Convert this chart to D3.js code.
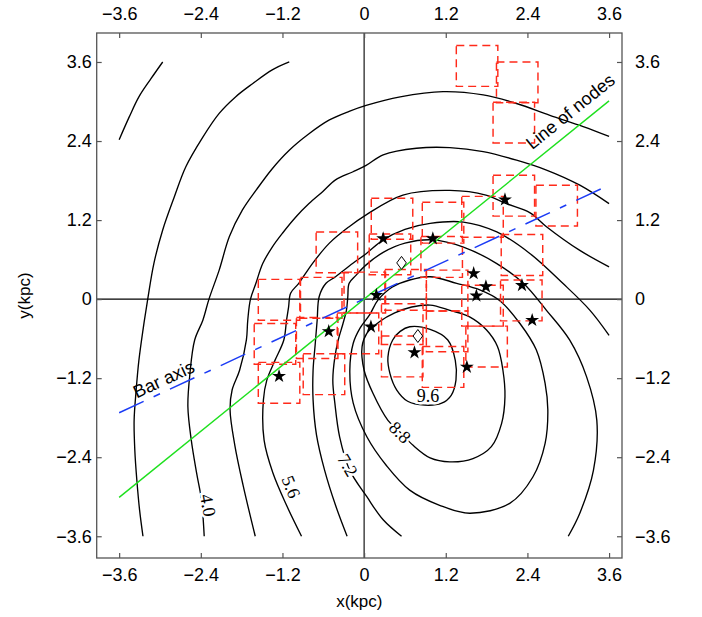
<!DOCTYPE html>
<html><head><meta charset="utf-8">
<script src="https://cdn.jsdelivr.net/npm/d3@7"></script>
<style>body{margin:0;background:#fff;}</style>
</head><body>
<svg id="chart" width="702" height="617"></svg>
<script>
// Axis ticks (kpc) and their printed labels
const tickValues = [-3.6, -2.4, -1.2, 0, 1.2, 2.4, 3.6];
const tickLabels = ["−3.6", "−2.4", "−1.2", "0", "1.2", "2.4", "3.6"];

// Iso-contours, traced as [x, y] in kpc
const contour24 = [[-3.60,2.42],[-3.45,2.77],[-3.31,3.07],[-3.13,3.35],[-2.96,3.60]];
const contour32 = [[-1.10,3.60],[-1.35,3.48],[-1.64,3.27],[-1.89,3.07],[-2.13,2.82],[-2.37,2.46],[-2.62,2.01],[-2.79,1.55],[-2.96,1.05],[-3.09,0.54],[-3.18,0.00],[-3.25,-0.47],[-3.31,-0.93],[-3.35,-1.38],[-3.38,-1.84],[-3.37,-2.29],[-3.34,-2.75],[-3.30,-3.20],[-3.25,-3.60]];
const contour40 = [[-2.35,-3.60],[-2.39,-3.05],[-2.46,-2.65],[-2.54,-2.14],[-2.59,-1.63],[-2.56,-1.13],[-2.49,-0.62],[-2.37,-0.32],[-2.28,0.00],[-2.13,0.44],[-1.98,0.95],[-1.79,1.35],[-1.59,1.65],[-1.35,1.98],[-1.10,2.26],[-0.81,2.51],[-0.51,2.72],[-0.22,2.85],[0.03,2.94],[0.53,3.07],[1.16,3.15],[1.75,3.10],[2.24,2.97],[2.73,2.79],[3.22,2.62],[3.60,2.47]];
const contour48 = [[-1.60,-3.60],[-1.78,-2.82],[-1.90,-2.22],[-1.97,-1.68],[-1.94,-1.38],[-1.83,-1.08],[-1.73,-0.62],[-1.71,-0.32],[-1.67,0.00],[-1.59,0.24],[-1.49,0.54],[-1.35,0.79],[-1.20,1.00],[-1.00,1.25],[-0.81,1.45],[-0.61,1.63],[-0.42,1.81],[-0.17,1.93],[0.03,2.03],[0.28,2.19],[0.77,2.29],[1.26,2.30],[1.75,2.24],[2.24,2.11],[2.68,1.96],[3.17,1.73],[3.60,1.45]];
const contour56 = [[-0.92,-3.60],[-1.14,-3.13],[-1.34,-2.64],[-1.47,-2.14],[-1.48,-1.53],[-1.43,-1.23],[-1.31,-0.93],[-1.18,-0.62],[-1.14,-0.32],[-1.11,-0.12],[-1.08,0.09],[-0.96,0.24],[-0.76,0.54],[-0.51,0.85],[-0.22,1.10],[0.03,1.28],[0.57,1.58],[1.26,1.65],[1.79,1.58],[2.09,1.45],[2.44,1.31],[2.68,1.10],[3.17,0.74],[3.60,0.49]];
const contour64 = [[-0.25,-3.60],[-0.42,-3.13],[-0.58,-2.60],[-0.70,-2.06],[-0.75,-1.53],[-0.75,-1.08],[-0.72,-0.70],[-0.69,-0.32],[-0.66,0.04],[-0.56,0.24],[-0.42,0.34],[-0.17,0.54],[0.03,0.69],[0.28,0.90],[0.60,1.06],[0.97,1.15],[1.46,1.17],[1.95,1.02],[2.44,0.69],[2.92,0.24],[3.32,-0.17],[3.60,-0.55]];
const contour72 = [[0.55,-3.60],[0.28,-3.35],[0.04,-3.00],[-0.21,-2.60],[-0.36,-2.09],[-0.43,-1.58],[-0.46,-1.23],[-0.43,-0.88],[-0.38,-0.62],[-0.31,-0.37],[-0.26,-0.17],[-0.24,0.03],[-0.22,0.24],[-0.12,0.36],[0.03,0.52],[0.28,0.71],[0.60,0.85],[1.01,0.90],[1.46,0.79],[1.95,0.54],[2.34,0.24],[2.68,-0.17],[3.02,-0.62],[3.27,-1.18],[3.42,-1.84],[3.37,-2.60],[3.17,-3.25],[3.00,-3.60]];
const contour80 = [[0.97,0.34],[1.36,0.24],[1.70,0.14],[1.99,-0.02],[2.29,-0.37],[2.53,-0.77],[2.66,-1.28],[2.70,-1.68],[2.66,-2.19],[2.48,-2.70],[2.14,-3.10],[1.55,-3.25],[1.11,-3.13],[0.67,-2.90],[0.33,-2.53],[0.04,-2.09],[-0.16,-1.58],[-0.21,-1.08],[-0.16,-0.67],[-0.06,-0.44],[0.08,-0.24],[0.20,-0.02],[0.41,0.18],[0.67,0.29]];
const contour88 = [[0.97,-0.09],[1.26,-0.17],[1.55,-0.27],[1.80,-0.47],[1.96,-0.72],[2.04,-1.08],[2.07,-1.48],[2.02,-1.89],[1.87,-2.24],[1.60,-2.42],[1.26,-2.47],[0.97,-2.41],[0.72,-2.22],[0.53,-2.02],[0.35,-1.84],[0.13,-1.43],[0.00,-1.08],[-0.03,-0.72],[0.04,-0.52],[0.23,-0.34],[0.45,-0.21],[0.70,-0.12]];
const contour96 = [[0.67,-0.42],[0.97,-0.46],[1.23,-0.62],[1.34,-0.93],[1.35,-1.23],[1.28,-1.46],[1.14,-1.58],[0.89,-1.61],[0.64,-1.55],[0.48,-1.38],[0.38,-1.13],[0.35,-0.88],[0.42,-0.62],[0.53,-0.49]];

const contourSet = [
  {level: 2.4, closed: false, points: contour24},
  {level: 3.2, closed: false, points: contour32},
  {level: 4.0, closed: false, points: contour40},
  {level: 4.8, closed: false, points: contour48},
  {level: 5.6, closed: false, points: contour56},
  {level: 6.4, closed: false, points: contour64},
  {level: 7.2, closed: false, points: contour72},
  {level: 8.0, closed: true,  points: contour80},
  {level: 8.8, closed: true,  points: contour88},
  {level: 9.6, closed: true,  points: contour96}
];

// In-line contour labels: value, anchor (kpc), text angle (deg)
const contourLabelText  = ["4.0", "5.6", "7.2", "8.8", "9.6"];
const contourLabelAt    = [[-2.29,-3.13],[-1.07,-2.85],[-0.24,-2.52],[0.53,-2.02],[0.94,-1.46]];
const contourLabelAngle = [80, 68, 60, 45, 0];

// Observed fields (centres, kpc) and field extent
const fieldCentres = [[1.66,3.54],[2.25,3.29],[2.20,2.68],[2.20,1.57],[2.83,1.42],[0.41,1.22],[1.16,1.16],[1.74,1.25],[-0.40,0.71],[0.38,0.68],[1.14,0.64],[2.32,0.67],[-1.25,-0.01],[-0.63,0.02],[0.01,0.10],[0.61,0.14],[1.22,0.13],[1.74,-0.10],[2.31,-0.02],[-1.31,-0.68],[-0.69,-0.59],[-0.09,-0.52],[0.56,-0.38],[1.22,-0.49],[1.80,-0.72],[0.56,-0.87],[1.16,-1.03],[-1.25,-1.27],[-0.59,-1.14]];
const fieldWidth = 0.61, fieldHeight = 0.62;

// Sources (stars) and reference positions (diamonds)
const starPositions = [[0.28,0.92],[1.01,0.92],[2.07,1.51],[1.61,0.39],[1.79,0.19],[1.65,0.05],[2.32,0.21],[2.47,-0.32],[0.18,0.06],[0.10,-0.42],[-0.52,-0.49],[0.74,-0.81],[1.51,-1.03],[-1.25,-1.17]];
const diamondPositions = [[0.55,0.55],[0.79,-0.56]];

// Line of nodes and bar axis (end points, kpc)
const lineOfNodes = [[-3.6,-3.01],[3.6,3.01]];
const barAxis = [[-3.6,-1.725],[3.6,1.73]];
const lineOfNodesLabelAt = [2.47, 2.26];
const barAxisLabelAt = [-3.34, -1.51];

// ---------------------------------------------------------------
const svg = d3.select("#chart");
const plotLeft = 96.7, plotRight = 622, plotTop = 33, plotBottom = 558;
const x = d3.scaleLinear().domain([-3.93, 3.79]).range([plotLeft, plotRight]);
const y = d3.scaleLinear().domain([-3.93, 4.04]).range([plotBottom, plotTop]);

const sans = "'Liberation Sans', Arial, Helvetica, sans-serif";
const serif = "'Liberation Serif', 'Times New Roman', serif";

svg.append("defs").append("clipPath").attr("id", "plotClip")
  .append("rect").attr("x", plotLeft).attr("y", plotTop)
  .attr("width", plotRight - plotLeft).attr("height", plotBottom - plotTop);

const plot = svg.append("g").attr("clip-path", "url(#plotClip)");

// zero axes
plot.append("line").attr("x1", x(0)).attr("x2", x(0)).attr("y1", plotTop).attr("y2", plotBottom)
  .attr("stroke", "#000").attr("stroke-width", 1.1);
plot.append("line").attr("x1", plotLeft).attr("x2", plotRight).attr("y1", y(0)).attr("y2", y(0))
  .attr("stroke", "#000").attr("stroke-width", 1.1);

// contours
const openLine = d3.line().x(d => x(d[0])).y(d => y(d[1])).curve(d3.curveCatmullRom.alpha(0.5));
const closedLine = d3.line().x(d => x(d[0])).y(d => y(d[1])).curve(d3.curveCatmullRomClosed.alpha(0.5));
plot.append("g").selectAll("path").data(contourSet).join("path")
  .attr("d", c => (c.closed ? closedLine : openLine)(c.points))
  .attr("fill", "none").attr("stroke", "#000").attr("stroke-width", 1.35);

// contour labels with a white halo that breaks the line
plot.append("g").selectAll("text").data(contourLabelText).join("text")
  .attr("transform", (t, i) => `translate(${x(contourLabelAt[i][0])},${y(contourLabelAt[i][1])}) rotate(${contourLabelAngle[i]})`)
  .attr("text-anchor", "middle").attr("dy", "0.35em")
  .attr("font-family", serif).attr("font-size", 18)
  .attr("stroke", "#fff").attr("stroke-width", 5).attr("paint-order", "stroke")
  .attr("fill", "#000")
  .text(t => t);

// observed fields
plot.append("g").selectAll("rect").data(fieldCentres).join("rect")
  .attr("x", d => x(d[0] - fieldWidth / 2))
  .attr("y", d => y(d[1] + fieldHeight / 2))
  .attr("width", d => x(d[0] + fieldWidth / 2) - x(d[0] - fieldWidth / 2))
  .attr("height", d => y(d[1] - fieldHeight / 2) - y(d[1] + fieldHeight / 2))
  .attr("fill", "none").attr("stroke", "#ff2a1a").attr("stroke-width", 1.45)
  .attr("stroke-dasharray", "8,5");

// line of nodes and bar axis
plot.append("line")
  .attr("x1", x(lineOfNodes[0][0])).attr("y1", y(lineOfNodes[0][1]))
  .attr("x2", x(lineOfNodes[1][0])).attr("y2", y(lineOfNodes[1][1]))
  .attr("stroke", "#1ee01e").attr("stroke-width", 1.4);
plot.append("line")
  .attr("x1", x(barAxis[0][0])).attr("y1", y(barAxis[0][1]))
  .attr("x2", x(barAxis[1][0])).attr("y2", y(barAxis[1][1]))
  .attr("stroke", "#1c3cf5").attr("stroke-width", 1.5)
  .attr("stroke-dasharray", "27,11,7,11");

// stars
plot.append("g").selectAll("path").data(starPositions).join("path")
  .attr("transform", d => `translate(${x(d[0])},${y(d[1])})`)
  .attr("d", d3.symbol(d3.symbolStar, 60))
  .attr("fill", "#000");

// diamonds
const diamond = "M0,-6.5L4.8,0L0,6.5L-4.8,0Z";
plot.append("g").selectAll("path").data(diamondPositions).join("path")
  .attr("transform", d => `translate(${x(d[0])},${y(d[1])})`)
  .attr("d", diamond)
  .attr("fill", "#fff").attr("stroke", "#000").attr("stroke-width", 1);

// line labels
function lineAngle(seg) {
  return Math.atan2(y(seg[1][1]) - y(seg[0][1]), x(seg[1][0]) - x(seg[0][0])) * 180 / Math.PI;
}
svg.append("text")
  .attr("transform", `translate(${x(lineOfNodesLabelAt[0])},${y(lineOfNodesLabelAt[1])}) rotate(${lineAngle(lineOfNodes)})`)
  .attr("font-family", sans).attr("font-size", 18).attr("fill", "#000")
  .text("Line of nodes");
svg.append("text")
  .attr("transform", `translate(${x(barAxisLabelAt[0])},${y(barAxisLabelAt[1])}) rotate(${lineAngle(barAxis)})`)
  .attr("font-family", sans).attr("font-size", 18).attr("fill", "#000")
  .text("Bar axis");

// frame and axes with inward ticks
const fmt = (d, i) => tickLabels[i];
function styleAxis(g) {
  g.select(".domain").remove();
  g.attr("font-family", sans).attr("font-size", 18);
  g.selectAll(".tick line").attr("stroke", "#555").attr("stroke-width", 1.2);
  g.selectAll(".tick text").attr("fill", "#000");
}
svg.append("g").attr("transform", `translate(0,${plotBottom})`)
  .call(d3.axisBottom(x).tickValues(tickValues).tickFormat(fmt).tickSize(-5).tickPadding(10)).call(styleAxis);
svg.append("g").attr("transform", `translate(0,${plotTop})`)
  .call(d3.axisTop(x).tickValues(tickValues).tickFormat(fmt).tickSize(-5).tickPadding(13)).call(styleAxis);
svg.append("g").attr("transform", `translate(${plotLeft},0)`)
  .call(d3.axisLeft(y).tickValues(tickValues).tickFormat(fmt).tickSize(-5).tickPadding(5)).call(styleAxis);
svg.append("g").attr("transform", `translate(${plotRight},0)`)
  .call(d3.axisRight(y).tickValues(tickValues).tickFormat(fmt).tickSize(-5).tickPadding(13)).call(styleAxis);

svg.append("rect").attr("x", plotLeft).attr("y", plotTop)
  .attr("width", plotRight - plotLeft).attr("height", plotBottom - plotTop)
  .attr("fill", "none").attr("stroke", "#555").attr("stroke-width", 1.3);

// axis titles
svg.append("text").attr("x", (plotLeft + plotRight) / 2).attr("y", 607)
  .attr("text-anchor", "middle").attr("font-family", sans).attr("font-size", 17)
  .text("x(kpc)");
svg.append("text").attr("transform", `translate(30,${(plotTop + plotBottom) / 2}) rotate(-90)`)
  .attr("text-anchor", "middle").attr("font-family", sans).attr("font-size", 17)
  .text("y(kpc)");
</script>
</body></html>
